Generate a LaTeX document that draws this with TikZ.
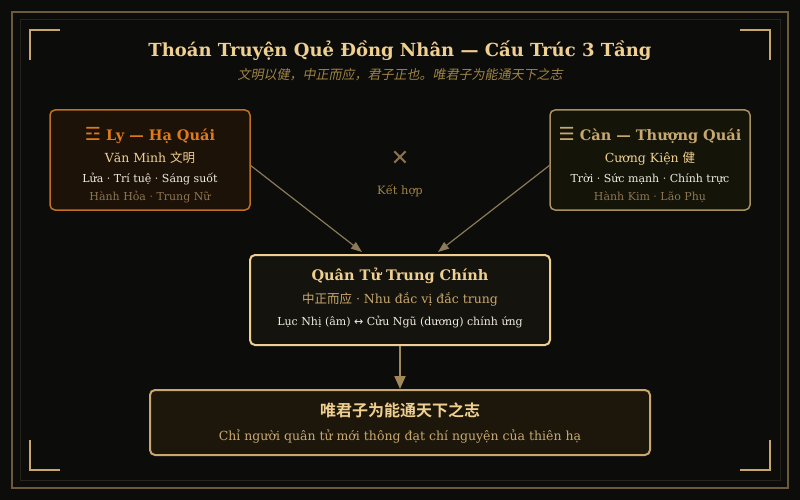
\documentclass[tikz,border=0pt]{standalone}
\usepackage{fontspec}
\setmainfont{DejaVu Serif}
\newfontfamily\cjk{Noto Sans CJK SC}
\newfontfamily\cjkb{Noto Sans CJK SC Bold}
\newfontfamily\cjkit{Noto Sans CJK SC}[FakeSlant=0.2]
\newfontfamily\sym{DejaVu Sans}
\definecolor{bg}{HTML}{0C0C0A}
\definecolor{frameA}{HTML}{6B5A3A}
\definecolor{frameB}{HTML}{26241C}
\definecolor{corner}{HTML}{C8A86A}
\definecolor{gold}{HTML}{F0D090}
\definecolor{subt}{HTML}{A08444}
\definecolor{lyB}{HTML}{C07020}
\definecolor{lyF}{HTML}{1C1208}
\definecolor{lyT}{HTML}{E07A18}
\definecolor{canB}{HTML}{A89060}
\definecolor{canF}{HTML}{141409}
\definecolor{canT}{HTML}{C8A870}
\definecolor{wht}{HTML}{F0ECE0}
\definecolor{muted}{HTML}{8E7552}
\definecolor{midF}{HTML}{15130D}
\definecolor{botF}{HTML}{1C170A}
\definecolor{arr}{HTML}{8A7A58}
\definecolor{arrV}{HTML}{A08858}
\usetikzlibrary{arrows.meta}
\tikzset{
  box/.style={draw, rounded corners=5pt, inner sep=0pt},
  txt/.style={inner sep=0pt, anchor=base},
  link/.style={draw=arr, line width=1.2pt, -{Triangle[length=11pt,width=8pt]}},
}
\newcommand{\trig}[1]{{\sym\fontsize{18}{18}\selectfont #1}}
\begin{document}
\begin{tikzpicture}[x=1pt,y=-1pt]
\fill[bg] (0,0) rectangle (800,500);
\useasboundingbox (0,0) rectangle (800,500);
\draw[frameA, line width=1.5pt] (12,12) rectangle (788,488);
\draw[frameB, line width=1pt] (20,20) rectangle (780,480);
\draw[corner, line width=2pt] (30,60) -- (30,30) -- (60,30);
\draw[corner, line width=2pt] (770,60) -- (770,30) -- (740,30);
\draw[corner, line width=2pt] (30,440) -- (30,470) -- (60,470);
\draw[corner, line width=2pt] (770,440) -- (770,470) -- (740,470);

\node[txt, text=gold, font=\bfseries\fontsize{18}{20}\selectfont] (title) at (400,57) {Thoán Truyện Quẻ Đồng Nhân — Cấu Trúc 3 Tầng};
\node[txt, text=subt, font=\cjkit\fontsize{13}{15}\selectfont] (sub) at (400,80) {文明以健，中正而应，君子正也。唯君子为能通天下之志};

% Ly box
\node[box, draw=lyB, fill=lyF, line width=1.5pt, minimum width=200pt, minimum height=100pt] (ly) at (150,160) {};
\node[txt, text=lyT, font=\bfseries\fontsize{14.5}{16}\selectfont] (lyt) at (150,140) {\trig{☲} Ly — Hạ Quái};
\node[txt, text=gold, font=\fontsize{12.5}{14}\selectfont] (ly2) at (150,162) {Văn Minh {\cjk 文明}};
\node[txt, text=wht, font=\fontsize{11}{13}\selectfont] (ly3) at (150,182) {Lửa · Trí tuệ · Sáng suốt};
\node[txt, text=muted, font=\fontsize{11}{13}\selectfont] (ly4) at (150,200) {Hành Hỏa · Trung Nữ};

% Can box
\node[box, draw=canB, fill=canF, line width=1.5pt, minimum width=200pt, minimum height=100pt] (can) at (650,160) {};
\node[txt, text=canT, font=\bfseries\fontsize{14.5}{16}\selectfont] (cant) at (650,140) {\trig{☰} Càn — Thượng Quái};
\node[txt, text=gold, font=\fontsize{12.5}{14}\selectfont] (can2) at (650,162) {Cương Kiện {\cjk 健}};
\node[txt, text=wht, font=\fontsize{11}{13}\selectfont] (can3) at (650,182) {Trời · Sức mạnh · Chính trực};
\node[txt, text=muted, font=\fontsize{11}{13}\selectfont] (can4) at (650,200) {Hành Kim · Lão Phụ};

% middle
\node[txt, text=muted, font=\sym\fontsize{22}{24}\selectfont] (x) at (400,165) {✕};
\node[txt, text=subt, font=\fontsize{11.5}{13}\selectfont] (kh) at (400,194) {Kết hợp};

% center box
\node[box, draw=gold, fill=midF, line width=2pt, minimum width=300pt, minimum height=90pt] (mid) at (400,300) {};
\node[txt, text=gold, font=\bfseries\fontsize{14.5}{16}\selectfont] (m1) at (400,280) {Quân Tử Trung Chính};
\node[txt, text=canT, font=\fontsize{12.5}{14}\selectfont] (m2) at (400,303) {{\cjk 中正而应} · Nhu đắc vị đắc trung};
\node[txt, text=wht, font=\fontsize{11}{13}\selectfont] (m3) at (400,325) {Lục Nhị (âm) {\sym ↔} Cửu Ngũ (dương) chính ứng};

% bottom box
\node[box, draw=canT, fill=botF, line width=2pt, minimum width=500pt, minimum height=65pt] (bot) at (400,422.5) {};
\node[txt, text=gold, font=\cjkb\fontsize{16}{18}\selectfont] (b1) at (400,416) {唯君子为能通天下之志};
\node[txt, text=canT, font=\fontsize{12.5}{14}\selectfont] (b2) at (400,440) {Chỉ người quân tử mới thông đạt chí nguyện của thiên hạ};

% connectors
\coordinate (lyo) at (250,165);
\coordinate (cano) at (550,165);
\coordinate (t1) at (362,252);
\coordinate (t2) at (438,252);
\draw[link] (lyo) -- (t1);
\draw[link] (cano) -- (t2);
\draw[draw=arrV, line width=2pt, -{Triangle[length=13pt,width=11pt]}] (mid.south) -- (bot.north);
\end{tikzpicture}
\end{document}
